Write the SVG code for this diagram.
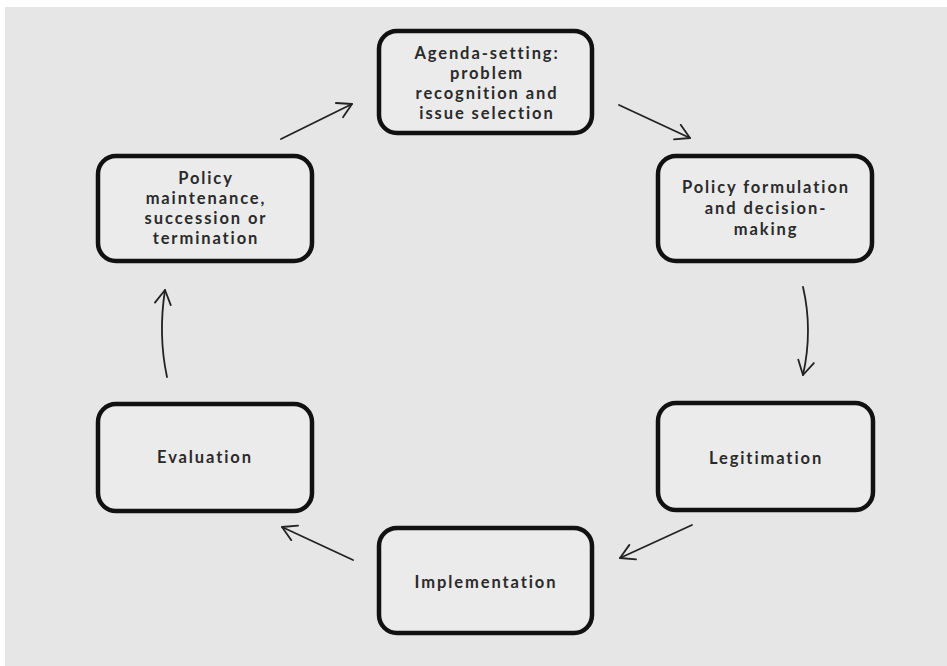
<svg xmlns="http://www.w3.org/2000/svg" width="947" height="666" viewBox="0 0 947 666">
<defs>
<style>
.box{fill:#ebebeb;stroke:#111;stroke-width:4.5}
.t{font-family:Lato,"Liberation Sans",sans-serif;font-size:16.5px;font-weight:700;letter-spacing:1.9px;fill:#2a2a2a;text-anchor:middle}
.c{fill:none;stroke:#222;stroke-width:1.8;stroke-linecap:round}
</style>
<marker id="ah" viewBox="0 0 20 20" refX="18" refY="10" markerWidth="20" markerHeight="20" markerUnits="userSpaceOnUse" orient="auto">
<path d="M4,2 L18,10 L4,18" fill="none" stroke="#222" stroke-width="1.8" stroke-linecap="round" stroke-linejoin="round"/>
</marker>
</defs>
<rect x="0" y="0" width="947" height="666" fill="#ffffff"/>
<rect x="5" y="7" width="942" height="659" fill="#e6e6e6"/>
<g id="connectors">
<path class="c" d="M281,139 L352,104" marker-end="url(#ah)"/>
<path class="c" d="M619,105 L690,138" marker-end="url(#ah)"/>
<path class="c" d="M803,287 Q813,330 803,375" marker-end="url(#ah)"/>
<path class="c" d="M692,525 L620,558" marker-end="url(#ah)"/>
<path class="c" d="M353,560 L282,527" marker-end="url(#ah)"/>
<path class="c" d="M167,377 Q158,335 165,290" marker-end="url(#ah)"/>
</g>
<g id="agenda">
<rect class="box" x="379" y="31" width="213" height="102" rx="18"/>
<text class="t" x="487" y="59">Agenda-setting:</text>
<text class="t" x="487" y="79">problem</text>
<text class="t" x="487" y="99">recognition and</text>
<text class="t" x="487" y="119">issue selection</text>
</g>
<g id="formulation">
<rect class="box" x="658" y="156" width="214" height="105" rx="18"/>
<text class="t" x="766" y="193">Policy formulation</text>
<text class="t" x="766" y="214">and decision-</text>
<text class="t" x="766" y="235">making</text>
</g>
<g id="legitimation">
<rect class="box" x="658" y="403" width="215" height="107" rx="18"/>
<text class="t" x="766" y="464">Legitimation</text>
</g>
<g id="implementation">
<rect class="box" x="379" y="528" width="213" height="105" rx="18"/>
<text class="t" x="486" y="588">Implementation</text>
</g>
<g id="evaluation">
<rect class="box" x="98" y="404" width="214" height="107" rx="18"/>
<text class="t" x="205" y="463">Evaluation</text>
</g>
<g id="maintenance">
<rect class="box" x="98" y="156" width="214" height="105" rx="18"/>
<text class="t" x="206" y="184">Policy</text>
<text class="t" x="206" y="204">maintenance,</text>
<text class="t" x="206" y="224">succession or</text>
<text class="t" x="206" y="244">termination</text>
</g>
</svg>
